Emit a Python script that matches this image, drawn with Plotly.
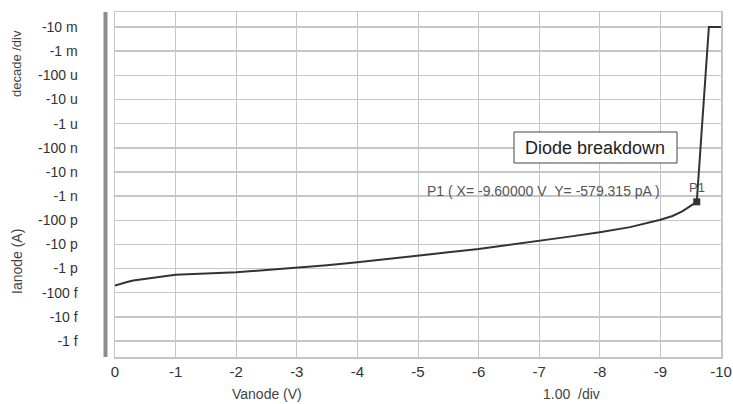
import plotly.graph_objects as go
import numpy as np

# ---- data ----
vanode = [0.0, -0.1, -0.2, -0.3, -0.5, -0.75, -1.0, -1.5, -2.0, -2.5, -3.0, -3.5,
          -4.0, -4.5, -5.0, -5.5, -6.0, -6.5, -7.0, -7.5, -8.0, -8.5, -9.0, -9.2,
          -9.36, -9.45, -9.55, -9.6, -9.65, -9.7, -9.75, -9.8, -10.0]
ianode = [-2.0e-13, -2.4e-13, -2.8e-13, -3.2e-13, -3.8e-13, -4.6e-13, -5.6e-13,
          -6.3e-13, -7.1e-13, -8.7e-13, -1.07e-12, -1.38e-12, -1.82e-12, -2.45e-12,
          -3.4e-12, -4.7e-12, -6.5e-12, -9.5e-12, -1.45e-11, -2.1e-11, -3.2e-11,
          -5.2e-11, -1.05e-10, -1.5e-10, -2.35e-10, -3.2e-10, -4.6e-10, -5.79315e-10,
          -3.7e-8, -2.4e-6, -1.55e-4, -1.0e-2, -1.0e-2]

marker_x = [-9.6]
marker_y = [-579.315e-12]

x_tickvals = [0, -1, -2, -3, -4, -5, -6, -7, -8, -9, -10]
x_ticktext = ["0", "-1", "-2", "-3", "-4", "-5", "-6", "-7", "-8", "-9", "-10"]
y_tickvals = [1e-2, 1e-3, 1e-4, 1e-5, 1e-6, 1e-7, 1e-8, 1e-9, 1e-10, 1e-11,
              1e-12, 1e-13, 1e-14, 1e-15]
y_ticktext = ["-10 m", "-1 m", "-100 u", "-10 u", "-1 u", "-100 n", "-10 n",
              "-1 n", "-100 p", "-10 p", "-1 p", "-100 f", "-10 f", "-1 f"]

FONT = "Liberation Sans, Arial, sans-serif"
GRID = "#c6c6c6"

fig = go.Figure()
fig.add_trace(go.Scatter(x=vanode, y=np.abs(ianode), mode="lines",
                         line=dict(color="#333333", width=2), hoverinfo="skip"))
fig.add_trace(go.Scatter(x=marker_x, y=np.abs(marker_y), mode="markers",
                         marker=dict(symbol="square", size=7, color="#333333"),
                         hoverinfo="skip"))

fig.update_layout(
    width=733, height=404,
    margin=dict(l=115, r=12, t=12, b=47, autoexpand=False),
    paper_bgcolor="white", plot_bgcolor="white",
    showlegend=False, hovermode=False,
    font=dict(family=FONT, color="#333333"),
    xaxis=dict(range=[0, -10], tickvals=x_tickvals, ticktext=x_ticktext,
               showgrid=True, gridcolor=GRID, gridwidth=1, zeroline=False,
               showline=True, mirror=True, linecolor=GRID, linewidth=1.5,
               showspikes=False,
               ticks="", automargin=False, tickfont=dict(size=15, color="#333333")),
    yaxis=dict(type="log", range=[-15.66, -1.38], tickvals=y_tickvals,
               ticktext=y_ticktext, showgrid=True, gridcolor=GRID, gridwidth=1.5,
               zeroline=False, showline=True, mirror=True, linecolor=GRID,
               linewidth=1.5, ticks="", ticklabelstandoff=33, automargin=False,
               showspikes=False,
               tickfont=dict(size=14, color="#333333")),
)

# thick gray bar to the left of the plot
fig.add_shape(type="line", xref="paper", yref="paper", x0=-0.0157, x1=-0.0157,
              y0=0, y1=1, line=dict(color="#8c8c8c", width=4))

# Diode breakdown box
fig.add_shape(type="rect", xref="paper", yref="paper", x0=0.6584, x1=0.9274,
              y0=0.5623, y1=0.6522, line=dict(color="#444444", width=1),
              fillcolor="white")

def note(x, y, text, size, color="#444444", xanchor="center", angle=0):
    fig.add_annotation(xref="paper", yref="paper", x=x, y=y, text=text,
                       showarrow=False, xanchor=xanchor, yanchor="middle",
                       textangle=angle,
                       font=dict(size=size, color=color, family=FONT))

note(0.7929, 0.6072, "Diode breakdown", 18, "#222222")
note(0.5116, 0.4812, "P1 ( X= -9.60000 V\u00a0\u00a0Y= -579.315 pA )", 14,
     "#555555", xanchor="left")
note(0.944, 0.4899, "P1", 13, "#555555", xanchor="left")

# axis titles
note(-0.1617, (357 - 64) / 345, "decade /div", 13, angle=-90)
note(-0.1617, (357 - 262) / 345, "Ianode (A)", 14, angle=-90)
note(0.2508, (357 - 394) / 345, "Vanode (V)", 14)
note(0.7541, (357 - 394) / 345, "1.00\u00a0\u00a0/div", 14)

fig.write_html("out.html",
               config={"displayModeBar": False, "staticPlot": True},
               post_script="document.body.style.margin='0';"
                           "document.body.style.overflow='hidden';")
